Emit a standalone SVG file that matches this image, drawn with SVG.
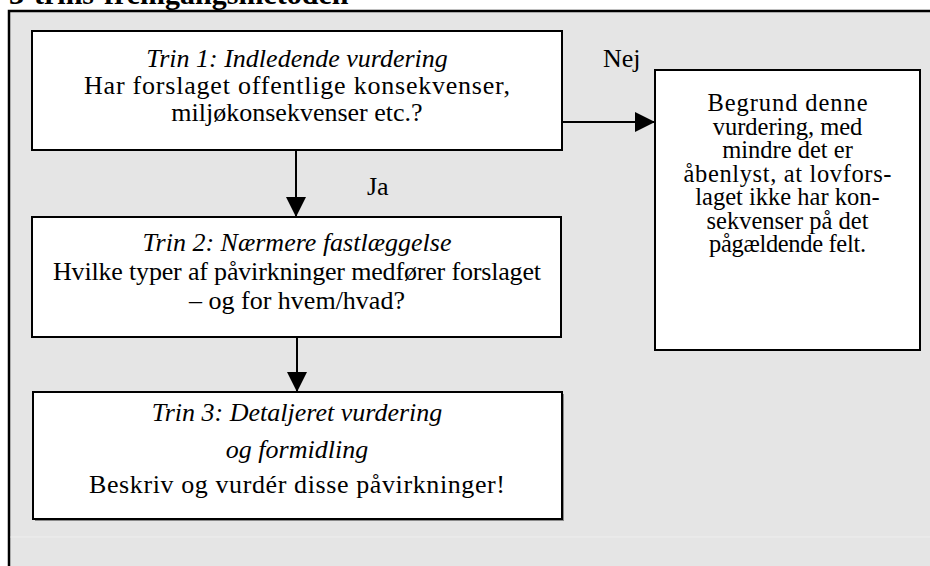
<svg xmlns="http://www.w3.org/2000/svg" width="930" height="566" viewBox="0 0 930 566">
  <style>
    .box { fill: #ffffff; stroke: #000000; stroke-width: 2; }
    .shadow { fill: #8a8a8a; }
    .t { font-family: "Liberation Serif", "Times New Roman", serif; font-size: 26px; fill: #000000; text-anchor: middle; }
    .r { font-size: 24.5px; }
    .it { font-style: italic; }
    .lbl { font-family: "Liberation Serif", "Times New Roman", serif; font-size: 26px; fill: #000000; }
    .conn { stroke: #000000; stroke-width: 2; fill: none; }
  </style>
  <defs>
    <marker id="ah" viewBox="0 0 20 20" markerWidth="20" markerHeight="20" refX="20" refY="10" orient="auto" markerUnits="userSpaceOnUse">
      <path d="M0,0 L20,10 L0,20 Z" fill="#000000"/>
    </marker>
  </defs>
  <rect x="0" y="0" width="930" height="566" fill="#ffffff"/>
  <text x="9" y="4" font-family="Liberation Serif, serif" font-size="30" font-weight="bold" fill="#000000">3-trins-fremgangsmetoden</text>
  <rect id="panel" x="9" y="11" width="940" height="600" fill="#e5e5e5" stroke="#000000" stroke-width="2.5"/>
  <line x1="10.5" y1="537" x2="930" y2="537" stroke="#eeeeee" stroke-width="1"/>

  <g id="connectors">
    <line class="conn" x1="296" y1="150" x2="296" y2="217" marker-end="url(#ah)"/>
    <line class="conn" x1="297" y1="337" x2="297" y2="392" marker-end="url(#ah)"/>
    <line class="conn" x1="562" y1="122" x2="655" y2="122" marker-end="url(#ah)"/>
    <text class="lbl" x="603" y="67">Nej</text>
    <text class="lbl" x="367" y="195">Ja</text>
  </g>

  <g id="trin1">
    <rect class="box" x="32" y="31" width="530" height="119"/>
    <text class="t it" x="297" y="67">Trin 1: Indledende vurdering</text>
    <text class="t" x="297" y="94" textLength="426">Har forslaget offentlige konsekvenser,</text>
    <text class="t" x="297" y="121">miljøkonsekvenser etc.?</text>
  </g>

  <g id="trin2">
    <rect class="box" x="32" y="217" width="529" height="120"/>
    <text class="t it" x="297" y="251">Trin 2: Nærmere fastlæggelse</text>
    <text class="t" x="297" y="280" textLength="488">Hvilke typer af påvirkninger medfører forslaget</text>
    <text class="t" x="297" y="309">– og for hvem/hvad?</text>
  </g>

  <g id="trin3">
    <rect class="shadow" x="35" y="394" width="529" height="127"/>
    <rect class="box" x="33" y="392" width="529" height="127"/>
    <text class="t it" x="297" y="421">Trin 3: Detaljeret vurdering</text>
    <text class="t it" x="297" y="458">og formidling</text>
    <text class="t" x="297" y="493" textLength="416">Beskriv og vurdér disse påvirkninger!</text>
  </g>

  <g id="begrund">
    <rect class="box" x="655" y="70" width="265" height="280"/>
    <text class="t r" x="787.5" y="111" textLength="160">Begrund denne</text>
    <text class="t r" x="787.5" y="134.5">vurdering, med</text>
    <text class="t r" x="787.5" y="158">mindre det er</text>
    <text class="t r" x="787.5" y="181.5" textLength="208">åbenlyst, at lovfors-</text>
    <text class="t r" x="787.5" y="205">laget ikke har kon-</text>
    <text class="t r" x="787.5" y="228.5">sekvenser på det</text>
    <text class="t r" x="787.5" y="252" textLength="157">pågældende felt.</text>
  </g>
</svg>
